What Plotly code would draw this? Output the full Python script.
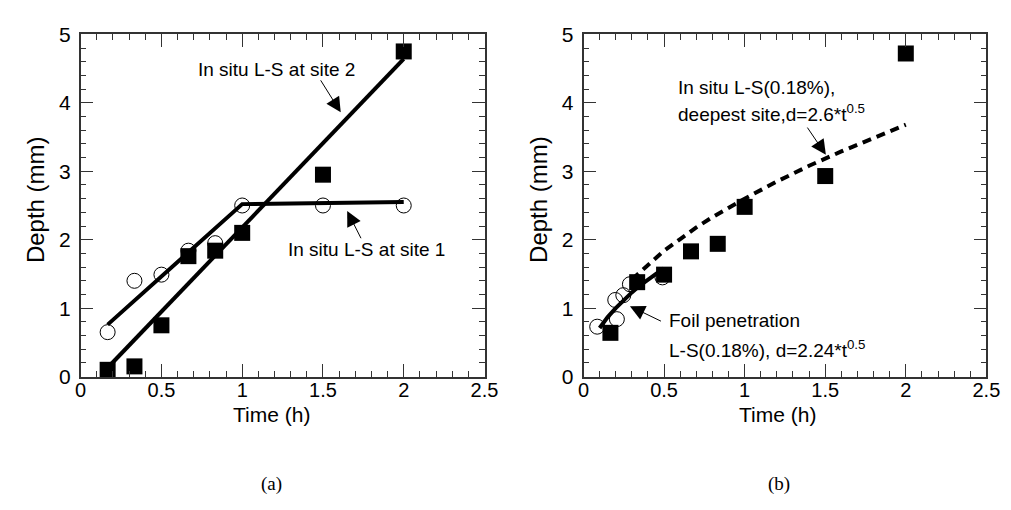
import plotly.graph_objects as go

# ---------------- data ----------------
# panel (a)
time_h = [0.167, 0.333, 0.5, 0.667, 0.833, 1.0, 1.5, 2.0]
site1_depth = [0.65, 1.40, 1.49, 1.84, 1.95, 2.50, 2.50, 2.50]
site2_depth = [0.10, 0.15, 0.75, 1.76, 1.84, 2.10, 2.95, 4.75]
site1_fit_t = [0.167, 1.0, 2.0]
site1_fit_d = [0.76, 2.52, 2.55]
site2_fit_t = [0.167, 2.0]
site2_fit_d = [0.13, 4.64]

# panel (b)
deep_depth = [0.64, 1.38, 1.49, 1.83, 1.94, 2.48, 2.93, 4.72]
foil_t = [0.085, 0.207, 0.197, 0.247, 0.288, 0.49]
foil_d = [0.73, 0.84, 1.12, 1.19, 1.35, 1.45]
foil_fit_t = [0.10, 0.15, 0.20, 0.25, 0.30, 0.35, 0.40, 0.45, 0.50]
foil_fit_d = [0.71, 0.87, 1.00, 1.12, 1.23, 1.33, 1.42, 1.50, 1.58]
deep_fit_t = [0.30, 0.40, 0.50, 0.60, 0.70, 0.80, 0.90, 1.00, 1.20, 1.40, 1.60, 1.80, 2.00]
deep_fit_d = [1.42, 1.64, 1.84, 2.01, 2.18, 2.33, 2.47, 2.60, 2.85, 3.08, 3.29, 3.49, 3.68]

x_ticks = [0, 0.5, 1, 1.5, 2, 2.5]
x_tick_labels = ["0", "0.5", "1", "1.5", "2", "2.5"]
y_ticks = [0, 1, 2, 3, 4, 5]
y_tick_labels = ["0", "1", "2", "3", "4", "5"]

FONT = "Arial, Liberation Sans, sans-serif"
W, H = 1011, 510

fig = go.Figure()

open_circle = dict(symbol="circle-open", size=15, color="black", line=dict(width=1, color="black"))
square = dict(symbol="square", size=16, color="black")

# ---- panel (a)
fig.add_trace(go.Scatter(x=time_h, y=site1_depth, mode="markers", marker=open_circle,
                         xaxis="x", yaxis="y", cliponaxis=False, name="site 1"))
fig.add_trace(go.Scatter(x=site1_fit_t, y=site1_fit_d, mode="lines",
                         line=dict(color="black", width=4), xaxis="x", yaxis="y"))
fig.add_trace(go.Scatter(x=site2_fit_t, y=site2_fit_d, mode="lines",
                         line=dict(color="black", width=4), xaxis="x", yaxis="y"))
fig.add_trace(go.Scatter(x=time_h, y=site2_depth, mode="markers", marker=square,
                         xaxis="x", yaxis="y", cliponaxis=False, name="site 2"))

# ---- panel (b)
fig.add_trace(go.Scatter(x=foil_t, y=foil_d, mode="markers", marker=open_circle,
                         xaxis="x2", yaxis="y2", cliponaxis=False, name="foil"))
fig.add_trace(go.Scatter(x=deep_fit_t, y=deep_fit_d, mode="lines",
                         line=dict(color="black", width=4, dash="9px,6px"), xaxis="x2", yaxis="y2"))
fig.add_trace(go.Scatter(x=foil_fit_t, y=foil_fit_d, mode="lines",
                         line=dict(color="black", width=4), xaxis="x2", yaxis="y2"))
fig.add_trace(go.Scatter(x=time_h, y=deep_depth, mode="markers", marker=square,
                         xaxis="x2", yaxis="y2", cliponaxis=False, name="deepest"))

# ---- axes
y_dom = [1 - 373.5 / H, 1 - 15 / H]
x1_dom = [68 / W, 480 / W]
x2_dom = [581 / W, 992 / W]

def xaxis(domain, anchor):
    return dict(domain=domain, anchor=anchor, range=[0, 2.5], tickmode="array",
                tickvals=x_ticks, ticktext=x_tick_labels,
                ticks="inside", ticklen=13, tickwidth=1.3, tickcolor="#333",
                minor=dict(dtick=0.1, tick0=0, ticks="inside", ticklen=6, tickwidth=1.3, tickcolor="#333"),
                showline=True, linecolor="#333", linewidth=1.5, mirror="ticks",
                showgrid=False, zeroline=False, ticklabelstandoff=-5,
                tickfont=dict(family=FONT, size=20, color="black"))

def yaxis(anchor):
    return dict(domain=y_dom, anchor=anchor, range=[0, 5], tickmode="array",
                tickvals=y_ticks, ticktext=y_tick_labels,
                ticks="inside", ticklen=13, tickwidth=1.3, tickcolor="#333",
                minor=dict(dtick=0.2, tick0=0, ticks="inside", ticklen=6, tickwidth=1.3, tickcolor="#333"),
                showline=True, linecolor="#333", linewidth=1.5, mirror="ticks",
                showgrid=False, zeroline=False, ticklabelstandoff=4,
                tickfont=dict(family=FONT, size=21, color="black"))

ann = []
def text(x, y, s, ref_x="paper", ref_y="paper", size=19, xanchor="center", family=FONT, angle=0):
    ann.append(dict(x=x, y=y, xref=ref_x, yref=ref_y, text=s, showarrow=False,
                    xanchor=xanchor, yanchor="middle", textangle=angle,
                    font=dict(family=family, size=size, color="black")))

def arrow(xh, yh, xt, yt, xr, yr):
    ann.append(dict(x=xh, y=yh, ax=xt, ay=yt, xref=xr, yref=yr, axref=xr, ayref=yr,
                    text="", showarrow=True, arrowhead=2, arrowsize=3, arrowwidth=1,
                    arrowcolor="black", standoff=0, startstandoff=0))

# axis titles
text(263 / W, 1 - 413 / H, "Time (h)", size=21)
text(779 / W, 1 - 413 / H, "Time (h)", size=21)
text(22 / W, 1 - 188 / H, "Depth (mm)", size=24, angle=-90)
text(535 / W, 1 - 188 / H, "Depth (mm)", size=24, angle=-90)
# panel labels
text(263 / W, 1 - 486 / H, "(a)", size=19, family="Liberation Serif, Times New Roman, serif")
text(780 / W, 1 - 486 / H, "(b)", size=19, family="Liberation Serif, Times New Roman, serif")

# panel (a) annotations
text(1.21, 4.49, "In situ L-S at site 2", "x", "y")
arrow(1.61, 3.86, 1.48, 4.35, "x", "y")
text(1.27, 1.86, "In situ L-S at site 1", "x", "y", xanchor="left")
arrow(1.65, 2.42, 1.74, 2.0, "x", "y")

# panel (b) annotations
text(0.575, 4.22, "In situ L-S(0.18%),", "x2", "y2", xanchor="left")
text(0.575, 3.85, "deepest site,d=2.6*t<sup>0.5</sup>", "x2", "y2", xanchor="left")
arrow(1.504, 3.24, 1.383, 3.66, "x2", "y2")
text(0.52, 0.82, "Foil penetration", "x2", "y2", xanchor="left")
text(0.52, 0.40, "L-S(0.18%), d=2.24*t<sup>0.5</sup>", "x2", "y2", xanchor="left")
arrow(0.288, 1.03, 0.49, 0.80, "x2", "y2")

fig.update_layout(
    width=W, height=H, margin=dict(l=0, r=0, t=0, b=0),
    paper_bgcolor="white", plot_bgcolor="white", showlegend=False,
    xaxis=xaxis(x1_dom, "y"), yaxis=yaxis("x"),
    xaxis2=xaxis(x2_dom, "y2"), yaxis2=yaxis("x2"),
    annotations=ann,
)

fig.write_html("out.html")
